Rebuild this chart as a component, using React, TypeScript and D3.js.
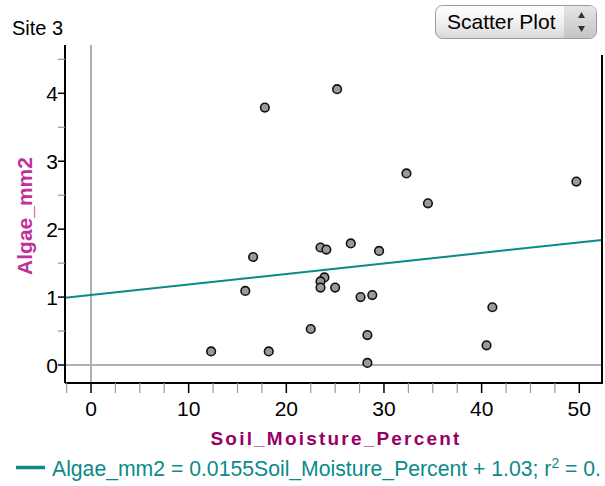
import React from 'react';
import * as d3 from 'd3';

// readings from the Site 3 scatter plot
const soilMoisture = [25.2, 17.8, 32.3, 34.5, 49.7, 16.6, 23.5, 24.1, 26.6, 29.5, 15.8, 23.9, 23.5, 23.5, 25.0, 27.6, 28.8, 22.5, 28.3, 12.3, 18.2, 28.3, 41.1, 40.5];
const algae = [4.06, 3.79, 2.82, 2.38, 2.70, 1.59, 1.73, 1.70, 1.79, 1.68, 1.09, 1.29, 1.23, 1.14, 1.14, 1.00, 1.03, 0.53, 0.44, 0.20, 0.20, 0.03, 0.85, 0.29];
const xTickLabels = [0, 10, 20, 30, 40, 50];
const yTickLabels = [0, 1, 2, 3, 4];
const slope = 0.0155;
const intercept = 1.03;

const W = 605;
const H = 486;
const left = 65;
const right = 602;
const top = 45;
const bottom = 383;

const FONT = 'Arial, "Liberation Sans", sans-serif';

export default function App() {
  const x = d3.scaleLinear().domain([0, 50]).range([91, 579.3]);
  const y = d3.scaleLinear().domain([0, 4]).range([365, 93.3]);
  const xMin = x.invert(left);
  const xMax = x.invert(right);
  const yMin = y.invert(bottom);
  const yMax = y.invert(top);

  const xMinor = d3.range(Math.ceil(xMin / 2.5) * 2.5, xMax, 2.5);
  const yMinor = d3.range(Math.ceil(yMin / 0.5) * 0.5, yMax, 0.5);

  const fit = d3.line<number>()
    .x(d => x(d))
    .y(d => y(slope * d + intercept));

  const points = soilMoisture.map((s, i) => ({ s, a: algae[i] }));

  return (
    <svg width={W} height={H} style={{ position: 'absolute', left: 0, top: 0, background: '#fff' }}>
      <defs>
        <linearGradient id="btn" x1="0" y1="0" x2="0" y2="1">
          <stop offset="0" stopColor="#ffffff" />
          <stop offset="0.5" stopColor="#f1f1f1" />
          <stop offset="1" stopColor="#d8d8d8" />
        </linearGradient>
        <linearGradient id="spin" x1="0" y1="0" x2="0" y2="1">
          <stop offset="0" stopColor="#e6e6e6" />
          <stop offset="1" stopColor="#c4c4c4" />
        </linearGradient>
        <clipPath id="plot">
          <rect x={left} y={top} width={right - left} height={bottom - top} />
        </clipPath>
      </defs>

      <text x={12} y={35} fontFamily={FONT} fontSize={20} fill="#000">Site 3</text>

      {/* scatter plot dropdown */}
      <g>
        <rect x={435.5} y={5.5} width={161} height={33} rx={7} fill="url(#btn)" stroke="#9a9a9a" />
        <path d="M564,6 H590 a6,6 0 0 1 6,6 V32 a6,6 0 0 1 -6,6 H564 Z" fill="url(#spin)" />
        <path d="M578,18 l3.5,-6 l3.5,6 Z" fill="#333" />
        <path d="M578,26 l3.5,6 l3.5,-6 Z" fill="#333" />
        <text x={447} y={29} fontFamily={FONT} fontSize={21} fill="#000">Scatter Plot</text>
      </g>

      {/* zero lines */}
      <line x1={x(0)} x2={x(0)} y1={top} y2={bottom} stroke="#b0b0b0" strokeWidth={2} />
      <line x1={left} x2={right} y1={y(0)} y2={y(0)} stroke="#b0b0b0" strokeWidth={2} />

      {/* regression line */}
      <g clipPath="url(#plot)">
        <path d={fit([xMin, xMax]) ?? ''} fill="none" stroke="#0a8a8a" strokeWidth={2} />
      </g>

      {/* points */}
      {points.map((p, i) => (
        <circle key={i} cx={x(p.s)} cy={y(p.a)} r={4.3} fill="#9a9a9a" stroke="#111" strokeWidth={1.6} />
      ))}

      {/* axes */}
      <line x1={left} x2={left} y1={top} y2={bottom} stroke="#000" strokeWidth={2} />
      <line x1={right} x2={right} y1={55} y2={bottom} stroke="#000" strokeWidth={2} />
      <line x1={left} x2={right + 1} y1={bottom} y2={bottom} stroke="#000" strokeWidth={2} />

      {xMinor.map(v => {
        const major = Math.abs(v % 10) < 1e-6;
        return (
          <line key={'xt' + v} x1={x(v)} x2={x(v)} y1={bottom} y2={bottom + 10}
            stroke={major ? '#000' : '#999'} strokeWidth={major ? 1.5 : 1.2} />
        );
      })}
      {yMinor.map(v => {
        const major = Math.abs(v % 1) < 1e-6;
        return (
          <line key={'yt' + v} x1={left - 7} x2={left} y1={y(v)} y2={y(v)}
            stroke={major ? '#000' : '#999'} strokeWidth={major ? 1.5 : 1.2} />
        );
      })}

      {xTickLabels.map(v => (
        <text key={'xl' + v} x={x(v)} y={416} textAnchor="middle" fontFamily={FONT} fontSize={21} fill="#000">{v}</text>
      ))}
      {yTickLabels.map(v => (
        <text key={'yl' + v} x={58} y={y(v) + 8} textAnchor="end" fontFamily={FONT} fontSize={21} fill="#000">{v}</text>
      ))}

      {/* axis titles */}
      <text transform="translate(32,216) rotate(-90)" textAnchor="middle" fontFamily={FONT} fontSize={21}
        fontWeight="bold" fill="#c0309a">Algae_mm2</text>
      <text x={336} y={445} textAnchor="middle" fontFamily={FONT} fontSize={19} fontWeight="bold"
        letterSpacing={2.2} fill="#990066">Soil_Moisture_Percent</text>

      {/* equation legend */}
      <line x1={16} x2={45} y1={467.5} y2={467.5} stroke="#0a8a8a" strokeWidth={3.5} />
      <text x={52} y={476} fontFamily={FONT} fontSize={21.2} fill="#0a8a8a">
        Algae_mm2 = 0.0155Soil_Moisture_Percent + 1.03; r
        <tspan dy={-8} fontSize={14}>2</tspan>
        <tspan dy={8}> = 0.</tspan>
      </text>
    </svg>
  );
}
